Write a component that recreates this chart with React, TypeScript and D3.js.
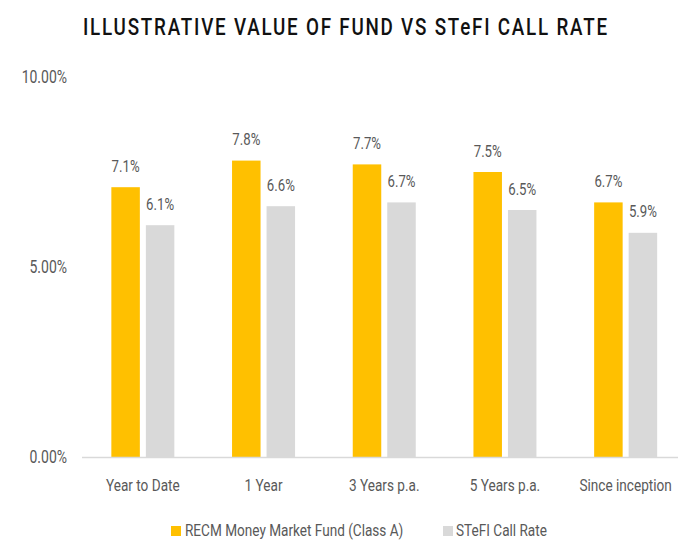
import React from "react";
import * as d3 from "d3";

const categories = ["Year to Date", "1 Year", "3 Years p.a.", "5 Years p.a.", "Since inception"];
const fundValues = [7.1, 7.8, 7.7, 7.5, 6.7];
const stefiValues = [6.1, 6.6, 6.7, 6.5, 5.9];
const seriesNames = ["RECM Money Market Fund (Class A)", "STeFI Call Rate"];
const seriesColors = ["#FFC000", "#D9D9D9"];
const yTicks = [0, 5, 10];
const title = "ILLUSTRATIVE VALUE OF FUND VS STeFI CALL RATE";

const W = 678;
const H = 540;
const FONT = "Roboto, 'Open Sans', sans-serif";
const SX = 0.8;
const TEXT = "#595959";

function T({ x, y, anchor = "start", size = 17, sx = SX, fill = TEXT, children, weight = 400 }: any) {
  return (
    <text
      transform={`translate(${x},${y}) scale(${sx},1)`}
      textAnchor={anchor}
      fontFamily={FONT}
      fontSize={size}
      fontWeight={weight}
      fill={fill}
    >
      {children}
    </text>
  );
}

export default function App() {
  const x0 = d3.scaleBand<string>().domain(categories).range([82.5, 686]).paddingInner(0.478).paddingOuter(0.239);
  const x1 = d3.scaleBand<number>().domain([0, 1]).range([0, x0.bandwidth()]).paddingInner(0.174).paddingOuter(0);
  const y = d3.scaleLinear().domain([0, 10]).range([457, 77]);
  const series = [fundValues, stefiValues];
  const fmt = (v: number) => d3.format(".1f")(v) + "%";
  const fmtTick = (v: number) => d3.format(".2f")(v) + "%";

  return (
    <svg width={W} height={H} style={{ position: "absolute", left: 0, top: 0, background: "#fff" }}>
      <rect width={W} height={H} fill="#fff" />
      <g transform={`translate(345,35) scale(0.8,1)`}>
        <text
          textAnchor="middle"
          fontFamily={FONT}
          fontSize={23.5}
          fontWeight={500}
          fill="#111"
          textLength={524 / 0.8}
          lengthAdjust="spacing"
        >
          {title}
        </text>
      </g>
      {yTicks.map((t) => (
        <T key={t} x={67} y={y(t) + 6} anchor="end" size={17.5}>
          {fmtTick(t)}
        </T>
      ))}
      {categories.map((c, i) => (
        <g key={c}>
          {series.map((vals, s) => {
            const bx = (x0(c) as number) + (x1(s) as number);
            const bw = x1.bandwidth();
            return (
              <g key={s}>
                <rect x={bx} y={y(vals[i])} width={bw} height={y(0) - y(vals[i])} fill={seriesColors[s]} />
                <T x={bx + bw / 2} y={y(vals[i]) - 15.5} anchor="middle" size={16.5}>
                  {fmt(vals[i])}
                </T>
              </g>
            );
          })}
          <T x={(x0(c) as number) + x0.bandwidth() / 2} y={490.7} anchor="middle" size={17}>
            {c}
          </T>
        </g>
      ))}
      <line x1={82} x2={W} y1={457.5} y2={457.5} stroke="#D9D9D9" strokeWidth={1.5} />
      <g>
        <rect x={171} y={526} width={10} height={10} fill={seriesColors[0]} />
        <T x={185} y={535.5} size={17}>{seriesNames[0]}</T>
        <rect x={443} y={526} width={10} height={10} fill={seriesColors[1]} />
        <T x={456} y={535.5} size={17}>{seriesNames[1]}</T>
      </g>
    </svg>
  );
}
